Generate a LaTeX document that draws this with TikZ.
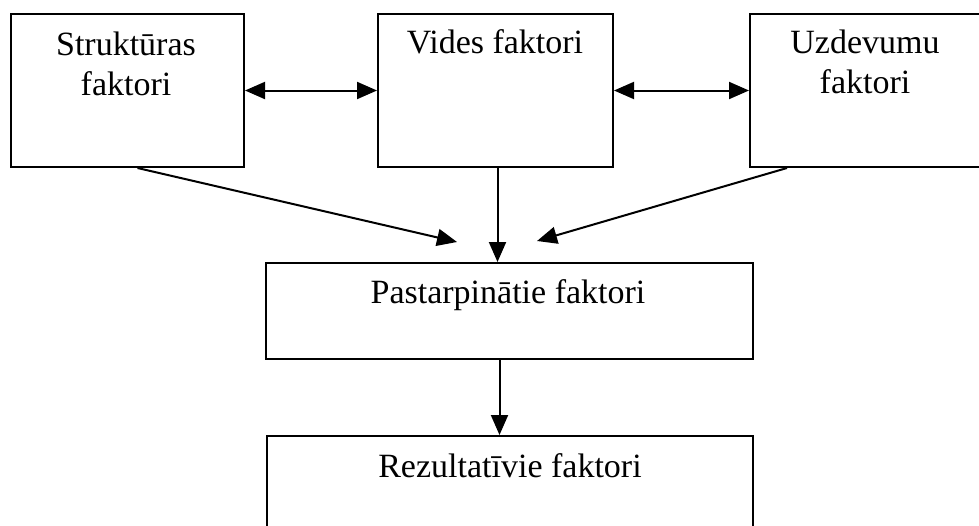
\documentclass[tikz,border=0pt]{standalone}
\usepackage{fontspec}
\setmainfont{Liberation Serif}
\usetikzlibrary{arrows.meta,calc}
\begin{document}
\begin{tikzpicture}[x=1pt,y=-1pt,
  box/.style={draw,line width=2pt,rectangle,inner sep=0pt,anchor=north west},
  lbl/.style={anchor=base,inner sep=0pt,font=\fontsize{34}{40}\selectfont},
  arr/.style={line width=2pt,-{Triangle[length=20pt,width=17pt]}},
  darr/.style={line width=2pt,{Triangle[length=20pt,width=17pt]}-{Triangle[length=20pt,width=17pt]}}]
\clip (0,0) rectangle (979,525);
\fill[white] (0,0) rectangle (979,525);
% boxes
\node[box,minimum width=233pt,minimum height=153pt] (s) at (10,13) {};
\node[box,minimum width=235pt,minimum height=153pt] (v) at (377,13) {};
\node[box,minimum width=240pt,minimum height=153pt] (u) at (749,13) {};
\node[box,minimum width=487pt,minimum height=96pt] (p) at (265,262) {};
\node[box,minimum width=486pt,minimum height=120pt] (r) at (266,435) {};
% labels
\node[lbl] (s1) at (126,55) {Struktūras};
\node[lbl] (s2) at (126,95) {faktori};
\node[lbl] (v1) at (495,53) {Vides faktori};
\node[lbl] (u1) at (865,53) {Uzdevumu};
\node[lbl] (u2) at (865,93) {faktori};
\node[lbl] (p1) at (508,303) {Pastarpinātie faktori};
\node[lbl] (r1) at (510,477) {Rezultatīvie faktori};
% connectors
\draw[darr] (s.east) -- (v.west);
\draw[darr] (v.east) -- (u.west);
\coordinate (sa) at ($(s.south)+(10,0)$);
\coordinate (ta) at (457,242);
\draw[arr] (sa) -- (ta);
\coordinate (va) at ($(v.south)+(2,0)$);
\draw[arr] (va) -- (va |- p.north);
\coordinate (ua) at ($(u.south west)+(38,0)$);
\coordinate (tb) at (537,241);
\draw[arr] (ua) -- (tb);
\coordinate (pa) at ($(p.south)+(-10,0)$);
\draw[arr] (pa) -- (pa |- r.north);
\end{tikzpicture}
\end{document}
